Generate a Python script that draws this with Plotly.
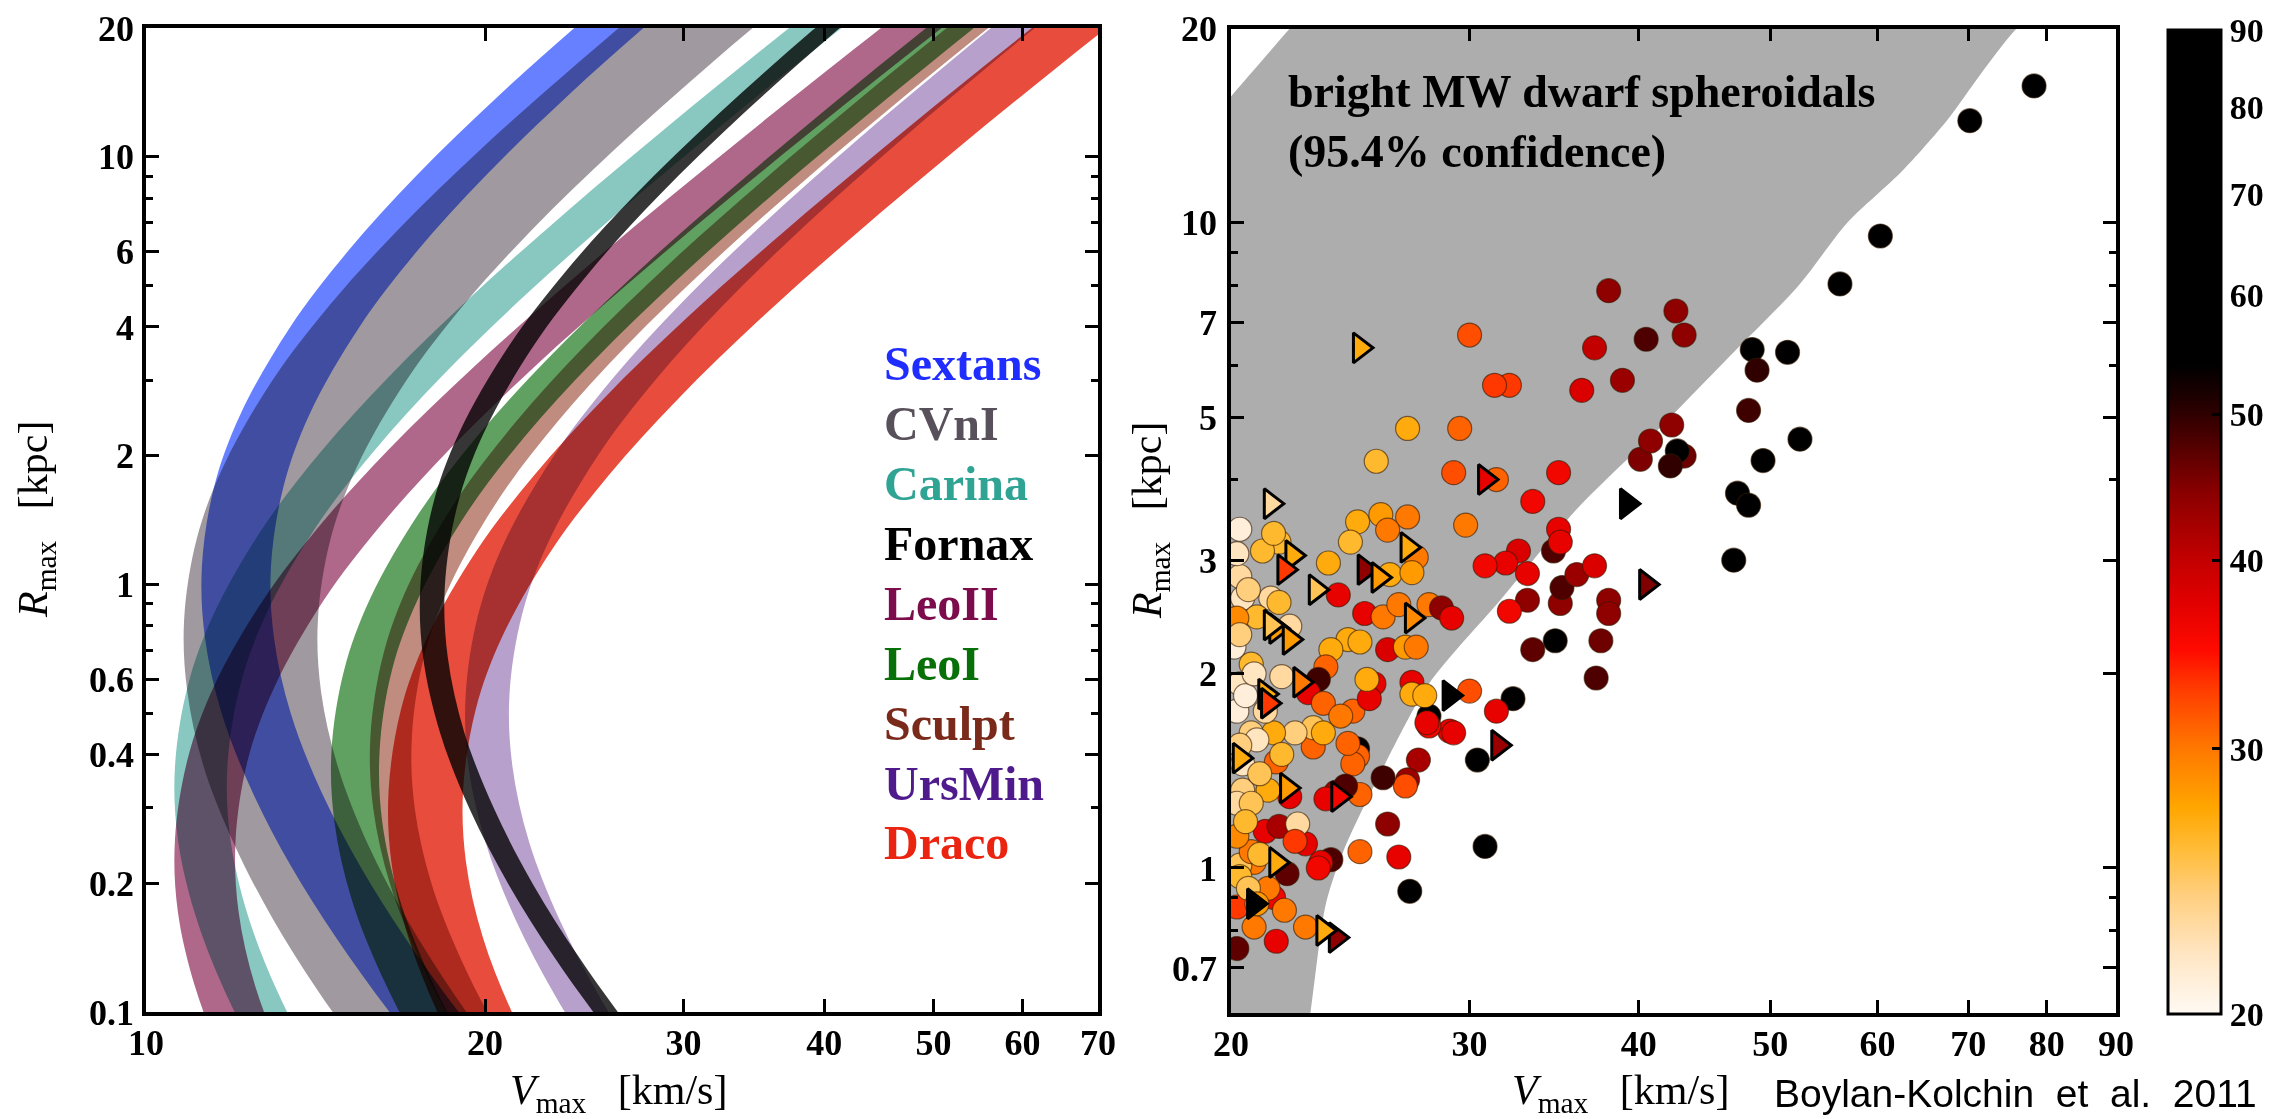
import numpy as np
import plotly.graph_objects as go

W, H = 2296, 1119

# ---------------- Left panel: constraint bands (Rmax in kpc, Vmax in km/s) ----------------
R_SEXTANS = [0.045, 0.07, 0.1, 0.15, 0.22, 0.33, 0.5, 0.75, 1.1, 1.7, 2.5, 4, 6, 9, 14, 22, 35, 55]
VLO_SEXTANS = [21.16, 18.33, 16.45, 14.73, 13.44, 12.41, 11.67, 11.28, 11.21, 11.50, 12.13, 13.43, 15.10, 17.36, 20.63, 25.02, 30.84, 38.1]
VHI_SEXTANS = [24.37, 21.12, 18.95, 16.96, 15.48, 14.29, 13.44, 12.99, 12.91, 13.25, 13.97, 15.47, 17.39, 20.0, 23.76, 28.82, 35.53, 43.89]

R_CVNI = [0.0525, 0.075, 0.1125, 0.165, 0.2475, 0.375, 0.5625, 0.825, 1.275, 1.875, 3.0, 4.5, 6.75, 10.5, 16.5, 26.25, 41.25]
VLO_CVNI = [17.68, 15.87, 14.20, 12.96, 11.97, 11.25, 10.88, 10.81, 11.09, 11.70, 12.95, 14.56, 16.74, 19.89, 24.13, 29.74, 36.74]
VHI_CVNI = [23.25, 20.86, 18.67, 17.04, 15.73, 14.80, 14.30, 14.21, 14.58, 15.38, 17.03, 19.14, 22.01, 26.16, 31.72, 39.11, 48.31]

R_CARINA = [0.051, 0.0748, 0.1122, 0.17, 0.255, 0.374, 0.578, 0.85, 1.36, 2.04, 3.06, 4.76, 7.48, 11.9, 18.7, 30.6, 47.6]
VLO_CARINA = [13.94, 12.72, 11.74, 11.05, 10.67, 10.61, 10.89, 11.48, 12.71, 14.29, 16.43, 19.53, 23.68, 29.19, 36.06, 45.68, 56.67]
VHI_CARINA = [15.52, 14.16, 13.07, 12.30, 11.88, 11.81, 12.12, 12.78, 14.15, 15.91, 18.29, 21.74, 26.36, 32.50, 40.14, 50.85, 63.08]

R_FORNAX = [0.0405, 0.063, 0.09, 0.135, 0.198, 0.297, 0.45, 0.675, 0.99, 1.53, 2.25, 3.6, 5.4, 8.1, 12.6, 19.8, 31.5, 49.5]
VLO_FORNAX = [33.06, 28.65, 25.71, 23.01, 21.0, 19.39, 18.24, 17.62, 17.52, 17.97, 18.95, 20.98, 23.59, 27.13, 32.24, 39.10, 48.20, 59.54]
VHI_FORNAX = [34.76, 30.12, 27.03, 24.20, 22.08, 20.39, 19.17, 18.53, 18.42, 18.90, 19.93, 22.06, 24.80, 28.52, 33.89, 41.11, 50.67, 62.60]

R_LEOII = [0.0506, 0.0759, 0.115, 0.1725, 0.253, 0.391, 0.575, 0.92, 1.38, 2.07, 3.22, 5.06, 8.05, 12.65, 20.7, 32.2, 50.6]
VLO_LEOII = [12.72, 11.74, 11.05, 10.67, 10.61, 10.89, 11.48, 12.71, 14.29, 16.43, 19.53, 23.68, 29.19, 36.06, 45.68, 56.67, 70.78]
VHI_LEOII = [14.40, 13.30, 12.50, 12.08, 12.01, 12.32, 13.0, 14.39, 16.18, 18.6, 22.1, 26.81, 33.05, 40.82, 51.71, 64.15, 80.12]

R_LEOI = [0.0555, 0.0814, 0.122, 0.185, 0.2775, 0.407, 0.629, 0.925, 1.48, 2.22, 3.33, 5.18, 8.14, 12.95, 20.35, 33.3, 51.8]
VLO_LEOI = [19.20, 17.52, 16.18, 15.21, 14.70, 14.61, 14.99, 15.81, 17.51, 19.68, 22.63, 26.89, 32.62, 40.21, 49.67, 62.91, 78.05]
VHI_LEOI = [21.17, 19.32, 17.84, 16.78, 16.21, 16.12, 16.53, 17.44, 19.30, 21.70, 24.96, 29.66, 35.97, 44.34, 54.77, 69.37, 86.07]

R_SCULPT = [0.04, 0.06, 0.088, 0.132, 0.2, 0.3, 0.44, 0.68, 1.0, 1.6, 2.4, 3.6, 5.6, 8.8, 14, 22, 36]
VLO_SCULPT = [23.21, 20.78, 18.96, 17.51, 16.46, 15.91, 15.82, 16.23, 17.11, 18.94, 21.30, 24.49, 29.10, 35.30, 43.51, 53.75, 68.08]
VHI_SCULPT = [25.27, 22.62, 20.64, 19.06, 17.92, 17.32, 17.22, 17.66, 18.63, 20.62, 23.19, 26.66, 31.68, 38.42, 47.37, 58.51, 74.11]

R_URSMIN = [0.05, 0.075, 0.11, 0.165, 0.25, 0.375, 0.55, 0.85, 1.25, 2.0, 3.0, 4.5, 7.0, 11.0, 17.5, 27.5, 45]
VLO_URSMIN = [28.20, 25.25, 23.04, 21.27, 20.01, 19.33, 19.22, 19.72, 20.79, 23.02, 25.88, 29.76, 35.37, 42.89, 52.88, 65.32, 82.70]
VHI_URSMIN = [30.85, 27.62, 25.20, 23.27, 21.88, 21.15, 21.02, 21.57, 22.74, 25.18, 28.31, 32.55, 38.68, 46.91, 57.83, 71.44, 90.50]

R_DRACO = [0.045, 0.066, 0.099, 0.15, 0.225, 0.33, 0.51, 0.75, 1.2, 1.8, 2.7, 4.2, 6.6, 10.5, 16.5, 27, 42]
VLO_DRACO = [21.57, 19.68, 18.17, 17.09, 16.51, 16.42, 16.84, 17.76, 19.66, 22.11, 25.42, 30.21, 36.64, 45.17, 55.79, 70.67, 87.70]
VHI_DRACO = [25.12, 22.92, 21.16, 19.90, 19.23, 19.12, 19.62, 20.69, 22.90, 25.75, 29.61, 35.18, 42.67, 52.61, 64.98, 82.30, 102.1]

BAND_NAMES = ["Sextans", "CVnI", "Carina", "Fornax", "LeoII", "LeoI", "Sculpt", "UrsMin", "Draco"]
BAND_FILL = ["#6680ff", "#a09aa0", "#88c8c0", "#363636", "#b0688a", "#60a060", "#c08c80", "#b8a0cc", "#e84c3c"]
LABEL_COLORS = ["#1f2dff", "#58505a", "#2fa394", "#000000", "#7c0c4c", "#087008", "#7a2a1a", "#4e1a8c", "#ea2410"]

bands = [
    (R_SEXTANS, VLO_SEXTANS, VHI_SEXTANS),
    (R_CVNI, VLO_CVNI, VHI_CVNI),
    (R_CARINA, VLO_CARINA, VHI_CARINA),
    (R_FORNAX, VLO_FORNAX, VHI_FORNAX),
    (R_LEOII, VLO_LEOII, VHI_LEOII),
    (R_LEOI, VLO_LEOI, VHI_LEOI),
    (R_SCULPT, VLO_SCULPT, VHI_SCULPT),
    (R_URSMIN, VLO_URSMIN, VHI_URSMIN),
    (R_DRACO, VLO_DRACO, VHI_DRACO),
]

# ---------------- Right panel: subhalos ----------------
# 95.4% region of the bright dSphs (outline, corners placed beyond the axes)
GRAY_V = [18.5, 20.0, 22.1, 23.3, 84.0, 76.0, 71.5, 67.5, 62.5, 57.0, 52.5, 47.0, 41.4, 36.0, 31.6,
          28.0, 25.9, 24.2, 23.5, 22.9, 22.6, 18.5]
GRAY_R = [13.0, 15.7, 20.0, 22.7, 24.0, 20.0, 17.0, 14.4, 12.0, 10.0, 8.0, 6.3, 4.8, 3.6, 2.6,
          1.93, 1.43, 1.06, 0.88, 0.6, 0.5, 0.5]

CIRC_V = [78.3, 70.2, 60.3, 56.3, 48.5, 51.5, 48.9, 48.2, 52.6, 49.4, 43.2, 42.7, 42.2, 40.1, 40.8, 42.3,
          47.3, 48.2, 38.0, 42.6, 43.2, 40.5, 37.1, 38.9, 36.3, 32.1, 31.3, 30.0, 29.5, 27.0, 25.6, 29.2,
          31.4, 34.9, 33.4, 29.8, 34.9, 47.0, 38.0, 38.0, 37.5, 37.2, 34.7, 33.4, 33.1, 35.0, 35.1, 36.0,
          37.1, 34.6, 35.0, 32.6, 31.9, 30.8, 33.1, 32.1, 32.3, 31.4, 30.4, 29.0, 28.0, 28.0, 30.0, 27.5,
          27.0, 26.9, 25.9, 26.1, 26.6, 24.9, 27.1, 30.8, 23.7, 23.3, 22.7, 22.7, 21.6, 20.8, 20.2, 20.2,
          21.5, 22.0, 20.8, 20.3, 21.7, 21.1, 24.8, 25.8, 27.0, 26.1, 24.5, 27.4, 23.6, 26.2, 27.2, 20.3,
          20.4, 21.4, 21.7, 24.0, 20.9, 20.2, 22.1, 25.1, 25.9, 26.6, 28.0, 28.6, 29.1, 24.4, 24.9, 23.7,
          26.1, 26.9, 27.4, 23.5, 23.2, 21.8, 20.7, 20.3, 22.8, 23.4, 24.6, 25.5, 25.3, 25.2, 27.2, 27.2,
          27.8, 27.9, 29.2, 24.8, 24.8, 24.6, 24.4, 23.9, 23.5, 24.9, 24.3, 23.0, 23.0, 23.4, 24.1, 22.3,
          21.5, 20.7, 20.2, 20.9, 21.6, 21.8, 22.1, 21.3, 20.4, 20.2, 20.7, 21.2, 21.7, 22.4, 20.7, 21.0,
          23.2, 22.3, 20.3, 21.3, 20.2, 21.5, 20.1, 20.3, 20.5, 20.4, 20.2, 20.6, 20.3, 20.6, 20.8, 21.2,
          20.3, 21.0, 20.5, 20.9, 21.9]
CIRC_R = [16.3, 14.4, 9.54, 8.04, 6.36, 6.30, 5.91, 5.12, 4.62, 4.28, 4.35, 4.43, 4.20, 4.30, 4.59, 4.86,
          3.81, 3.65, 7.85, 7.30, 6.70, 6.60, 6.40, 5.70, 5.50, 5.60, 5.60, 6.70, 4.80, 4.80, 4.27, 4.10,
          4.00, 4.10, 3.70, 3.40, 3.35, 3.00, 2.60, 2.48, 2.25, 1.97, 2.25, 2.18, 2.60, 2.57, 2.72, 2.85,
          2.94, 3.10, 3.20, 3.10, 2.97, 2.94, 2.86, 2.50, 1.83, 1.75, 1.47, 1.63, 1.72, 1.66, 1.88, 1.47,
          1.37, 1.34, 1.38, 1.17, 1.04, 1.06, 0.92, 1.08, 1.03, 1.02, 1.09, 0.81, 0.77, 0.81, 0.75, 0.87,
          0.90, 0.98, 1.02, 1.01, 3.20, 3.10, 3.44, 3.53, 3.50, 3.34, 3.20, 3.03, 2.97, 2.85, 2.87, 2.83,
          2.62, 2.62, 2.58, 2.65, 2.45, 2.44, 2.37, 2.48, 2.45, 2.56, 2.56, 2.53, 2.44, 2.26, 2.24, 2.18,
          2.18, 2.20, 2.20, 2.05, 1.96, 1.98, 2.07, 1.93, 1.87, 1.80, 1.75, 1.93, 1.83, 1.96, 1.94, 1.86,
          1.85, 1.68, 1.62, 1.53, 1.49, 1.45, 1.56, 1.31, 1.28, 1.30, 1.34, 1.54, 1.65, 1.62, 1.72, 1.62,
          1.62, 1.62, 1.75, 1.58, 1.46, 1.50, 1.29, 1.32, 1.32, 1.26, 1.26, 1.14, 1.16, 1.17, 1.06, 1.05,
          1.00, 1.10, 0.97, 0.93, 3.07, 3.30, 2.20, 2.30, 1.85, 1.45, 1.12, 0.93, 3.35, 2.70, 2.00, 1.75,
          1.55, 1.40, 1.18, 0.88, 0.86]
CIRC_C = [70, 70, 70, 70, 70, 70, 50, 49, 70, 70, 46, 70, 50, 45, 44, 44,
          70, 70, 44, 44, 44, 48, 40, 43, 38, 33, 33, 32, 31, 27, 26, 32,
          31, 36, 36, 30, 37, 70, 44, 44, 46, 48, 70, 47, 44, 44, 48, 43,
          38, 48, 37, 38, 37, 36, 37, 36, 70, 37, 70, 37, 70, 36, 32, 42,
          43, 32, 49, 44, 37, 31, 70, 70, 48, 37, 37, 30, 37, 30, 47, 33,
          36, 47, 30, 25, 26, 26, 27, 28, 30, 30, 26, 30, 27, 27, 28, 23,
          22, 23, 26, 37, 26, 29, 23, 37, 30, 30, 30, 44, 37, 27, 27, 27,
          38, 28, 30, 31, 49, 23, 26, 22, 37, 31, 31, 37, 37, 27, 37, 27,
          27, 37, 37, 70, 31, 31, 31, 42, 37, 31, 48, 31, 25, 27, 30, 24,
          27, 24, 21, 22, 31, 26, 37, 27, 24, 23, 25, 37, 42, 23, 30, 26,
          36, 33, 26, 30, 22, 26, 21, 24, 21, 22, 29, 25, 21, 24, 22, 23,
          24, 25, 26, 28, 30]

TRI_V = [24.9, 21.4, 30.8, 39.2, 40.5, 31.5, 29.0, 23.9, 23.4, 20.8, 21.6, 22.2, 25.1, 25.7,
         27.0, 21.9, 23.1, 21.6, 22.1, 27.2, 22.5, 21.2, 21.3, 20.3, 22.0, 24.0, 21.4]
TRI_R = [6.40, 3.67, 4.00, 3.67, 2.75, 1.55, 1.85, 0.78, 0.80, 0.88, 1.02, 3.05, 2.90, 2.82,
         3.14, 2.90, 2.70, 2.35, 2.26, 2.44, 1.94, 1.86, 1.80, 1.48, 1.33, 1.29, 2.38]
TRI_C = [27, 23, 37, 70, 45, 43, 70, 44, 27, 70, 27, 27, 44, 28,
         27, 33, 25, 28, 28, 29, 30, 27, 33, 27, 28, 36, 25]

CBAR_TICKS = [20, 30, 40, 50, 60, 70, 80, 90]

# colour scale on log10(value) between 20 and 90
COLORSCALE = [
    [0.00, "#fffaf4"], [0.06, "#ffe6c4"], [0.12, "#ffcf80"], [0.17, "#ffbb34"],
    [0.21, "#ffa600"], [0.27, "#ff7800"], [0.33, "#ff3c00"], [0.37, "#ff0a00"],
    [0.42, "#e00000"], [0.46, "#c40000"], [0.53, "#8a0000"], [0.58, "#500000"],
    [0.62, "#240000"], [0.66, "#000000"], [1.00, "#000000"],
]

SERIF = "Liberation Serif"

fig = go.Figure()

for (Rv, lo, hi), name, col in zip(bands, BAND_NAMES, BAND_FILL):
    xs = list(lo) + list(hi)[::-1]
    ys = list(Rv) + list(Rv)[::-1]
    fig.add_trace(go.Scatter(
        x=xs, y=ys, mode="lines", fill="toself", fillcolor=col,
        line=dict(width=0, color=col, shape="spline", smoothing=1.0),
        name=name, showlegend=False, hoverinfo="skip", xaxis="x", yaxis="y"))

fig.add_trace(go.Scatter(
    x=GRAY_V, y=GRAY_R, mode="lines", fill="toself", fillcolor="#adadad",
    line=dict(width=0, color="#adadad", shape="spline", smoothing=0.8),
    showlegend=False, hoverinfo="skip", xaxis="x2", yaxis="y2"))

fig.add_trace(go.Scatter(
    x=CIRC_V, y=CIRC_R, mode="markers", showlegend=False, xaxis="x2", yaxis="y2",
    marker=dict(symbol="circle", size=24, color=np.log10(CIRC_C), coloraxis="coloraxis",
                line=dict(width=1.2, color="rgba(50,25,0,0.6)"))))

fig.add_trace(go.Scatter(
    x=TRI_V, y=TRI_R, mode="markers", showlegend=False, xaxis="x2", yaxis="y2",
    marker=dict(symbol="triangle-right", size=26, color=np.log10(TRI_C), coloraxis="coloraxis",
                line=dict(width=3, color="black"))))

tickfont = dict(family=SERIF, size=36, color="black", weight="bold")
common = dict(showgrid=False, zeroline=False, showline=True, linecolor="black", linewidth=3.5,
              mirror="allticks", ticks="inside", ticklen=13, tickwidth=2.5, tickcolor="black",
              tickfont=tickfont, type="log", tickmode="array", automargin=False)

fig.update_layout(
    width=W, height=H, margin=dict(l=0, r=0, t=0, b=0, autoexpand=False),
    paper_bgcolor="white", plot_bgcolor="white",
    xaxis=dict(domain=[146 / W, 1098 / W], range=[1, np.log10(70)], anchor="y",
               tickvals=[10, 20, 30, 40, 50, 60, 70], ticktext=["10", "20", "30", "40", "50", "60", "70"],
               ticklabelstandoff=-4, **common),
    yaxis=dict(domain=[1 - 1012 / H, 1 - 28 / H], range=[-1, np.log10(20)], anchor="x",
               tickvals=[0.1, 0.2, 0.4, 0.6, 1, 2, 4, 6, 10, 20],
               ticktext=["0.1", "0.2", "0.4", "0.6", "1", "2", "4", "6", "10", "20"],
               minor=dict(tickmode="array", tickvals=[0.3, 0.5, 0.7, 0.8, 0.9, 3, 5, 7, 8, 9],
                          ticks="inside", ticklen=7, tickwidth=2.5, tickcolor="black"),
               ticklabelstandoff=1, **common),
    xaxis2=dict(domain=[1231 / W, 2116 / W], range=[np.log10(20), np.log10(90)], anchor="y2",
                tickvals=[20, 30, 40, 50, 60, 70, 80, 90],
                ticktext=["20", "30", "40", "50", "60", "70", "80", "90"],
                ticklabelstandoff=-4, **common),
    yaxis2=dict(domain=[1 - 1013 / H, 1 - 28.6 / H], range=[np.log10(0.596), np.log10(20)], anchor="x2",
                tickvals=[0.7, 1, 2, 3, 5, 7, 10, 20],
                ticktext=["0.7", "1", "2", "3", "5", "7", "10", "20"],
                minor=dict(tickmode="array", tickvals=[0.8, 0.9, 4, 6, 8, 9],
                           ticks="inside", ticklen=7, tickwidth=2.5, tickcolor="black"),
                ticklabelstandoff=3, **common),
    coloraxis=dict(
        colorscale=COLORSCALE, cmin=np.log10(20), cmax=np.log10(90),
        colorbar=dict(
            x=2168 / W, xanchor="left", y=1 - 522 / H, yanchor="middle",
            len=984 / H, lenmode="fraction", thickness=53, xpad=0, ypad=0,
            outlinewidth=3, outlinecolor="black",
            tickmode="array", tickvals=np.log10(CBAR_TICKS).tolist(),
            ticktext=[str(v) for v in CBAR_TICKS],
            ticks="inside", ticklen=10, tickwidth=2.5, tickcolor="black",
            tickfont=dict(family=SERIF, size=34, color="black", weight="bold"))),
)

ann = []
for i, (name, col) in enumerate(zip(BAND_NAMES, LABEL_COLORS)):
    ypx = 363 + 60 * i
    ann.append(dict(x=882 / W, y=1 - ypx / H, xref="paper", yref="paper", xanchor="left", yanchor="middle",
                    text=name, showarrow=False,
                    font=dict(family=SERIF, size=48, color=col, weight="bold")))

title_font = dict(family=SERIF, size=42, color="black")
ann += [
    dict(x=36 / W, y=1 - 520 / H, xref="paper", yref="paper", xanchor="center", yanchor="middle",
         textangle=-90, showarrow=False,
         text="<i>R</i><sub>max</sub>&nbsp;&nbsp;&nbsp;[kpc]", font=title_font),
    dict(x=1150 / W, y=1 - 521 / H, xref="paper", yref="paper", xanchor="center", yanchor="middle",
         textangle=-90, showarrow=False,
         text="<i>R</i><sub>max</sub>&nbsp;&nbsp;&nbsp;[kpc]", font=title_font),
    dict(x=618 / W, y=1 - 1093 / H, xref="paper", yref="paper", xanchor="center", yanchor="middle",
         showarrow=False, text="<i>V</i><sub>max</sub>&nbsp;&nbsp;&nbsp;[km/s]", font=title_font),
    dict(x=1620 / W, y=1 - 1093 / H, xref="paper", yref="paper", xanchor="center", yanchor="middle",
         showarrow=False, text="<i>V</i><sub>max</sub>&nbsp;&nbsp;&nbsp;[km/s]", font=title_font),
    dict(x=2015 / W, y=1 - 1093 / H, xref="paper", yref="paper", xanchor="center", yanchor="middle",
         showarrow=False, text="Boylan-Kolchin&nbsp; et&nbsp; al.&nbsp; 2011",
         font=dict(family="Liberation Sans", size=39, color="black")),
    dict(x=1286 / W, y=1 - 64 / H, xref="paper", yref="paper", xanchor="left", yanchor="top",
         align="left", showarrow=False,
         text="bright MW dwarf spheroidals<br>(95.4% confidence)",
         font=dict(family=SERIF, size=46, color="black", weight="bold")),
]
fig.update_layout(annotations=ann)

BLEND_JS = """
var gd = document.getElementById('{plot_id}');
function blendBands(){
  gd.querySelectorAll('.subplot.xy .scatterlayer .js-fill').forEach(function(p){
    p.style.mixBlendMode = 'multiply';
  });
}
blendBands();
if (gd.on) { gd.on('plotly_afterplot', blendBands); }
"""

fig.write_html("out.html", post_script=BLEND_JS, config={"displayModeBar": False})
